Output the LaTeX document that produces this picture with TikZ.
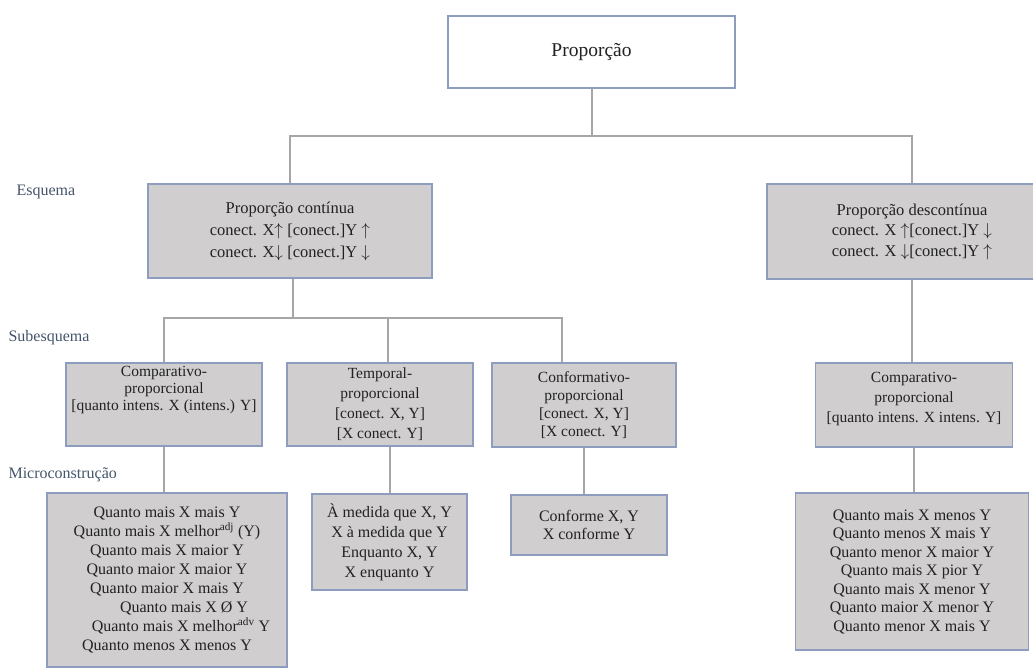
\documentclass[tikz,border=0pt]{standalone}
\usepackage{fontspec}
\setmainfont{Liberation Serif}
\usepackage{amsmath}
\usetikzlibrary{positioning}
\definecolor{boxgray}{HTML}{D0CECE}
\definecolor{boxline}{HTML}{8E9CC0}
\definecolor{linkgray}{HTML}{A6A6A6}
\definecolor{levelblue}{HTML}{44546A}
\definecolor{inkgray}{HTML}{222222}

\begin{document}
\begin{tikzpicture}[
    x=1pt, y=-1pt,
    every node/.style={text=inkgray, font=\fontsize{16}{19}\selectfont},
    sized/.style 2 args={minimum width=#1pt, minimum height=#2pt},
    box/.style={draw=boxline, line width=1.2pt, fill=boxgray, align=center, inner sep=0pt},
    topbox/.style={box, fill=white, font=\fontsize{19.5}{23}\selectfont},
    subbox/.style={box, font=\fontsize{15.5}{18}\selectfont},
    level/.style={anchor=west, text=levelblue, font=\fontsize{16}{18}\selectfont},
    link/.style={draw=linkgray, line width=2pt}
]
   \useasboundingbox (0,0) rectangle (1033,669);

   % Levels
   \node[level] (lvesq) at (13,192) {Esquema};
   \node[level] (lvsub) at (5,338) {Subesquema};
   \node[level] (lvmic) at (5,475) {Microconstrução};

   % Boxes
   \node[topbox, sized={287}{72}] (prop) at (591.5,52) {Proporção};
   \node[box, sized={284}{94}, font=\fontsize{16.5}{22}\selectfont] (cont) at (290,231)
      {Proporção contínua\\conect. X$\uparrow$ [conect.]Y $\uparrow$\\conect. X$\downarrow$ [conect.]Y $\downarrow$};
   \node[box, sized={290}{95}, font=\fontsize{16.5}{20.5}\selectfont] (desc) at (912,231.5)
      {Proporção descontínua\\conect. X $\uparrow$[conect.]Y $\downarrow$\\conect. X $\downarrow$[conect.]Y $\uparrow$};

   \node[subbox, sized={196}{83}, font=\fontsize{15.5}{17}\selectfont, text depth=33pt] (subcomp) at (164,404.5)
      {Comparativo-\\proporcional\\{}[quanto intens. X (intens.) Y]};
   \node[subbox, sized={186}{83}, font=\fontsize{15.5}{20}\selectfont] (subtemp) at (380,404.5)
      {Temporal-\\proporcional\\{}[conect. X, Y]\\{}[X conect. Y]};
   \node[subbox, sized={184}{84}] (subconf) at (584,405)
      {Conformativo-\\proporcional\\{}[conect. X, Y]\\{}[X conect. Y]};
   \node[subbox, sized={197}{84}, font=\fontsize{15.5}{20}\selectfont, text depth=16pt] (subdesc) at (914,405)
      {Comparativo-\\proporcional\\{}[quanto intens. X intens. Y]};

   \node[box, sized={240}{174}] (miccomp) at (167,580)
      {Quanto mais X mais Y\\Quanto mais X melhor\textsuperscript{adj} (Y)\\Quanto mais X maior Y\\
       Quanto maior X maior Y\\Quanto maior X mais Y\\\hspace*{34pt}Quanto mais X Ø Y\\
       \hspace*{28pt}Quanto mais X melhor\textsuperscript{adv} Y\\Quanto menos X menos Y};
   \node[box, sized={155}{96}, font=\fontsize{16}{20}\selectfont] (mictemp) at (389.5,542)
      {À medida que X, Y\\X à medida que Y\\Enquanto X, Y\\X enquanto Y};
   \node[box, sized={156}{60}, font=\fontsize{16}{18}\selectfont] (micconf) at (589,525)
      {Conforme X, Y\\X conforme Y};
   \node[box, sized={233}{157}, font=\fontsize{16}{18.5}\selectfont] (micdesc) at (912,571.5)
      {Quanto mais X menos Y\\Quanto menos X mais Y\\Quanto menor X maior Y\\Quanto mais X pior Y\\
       Quanto mais X menor Y\\Quanto maior X menor Y\\Quanto menor X mais Y};

   % Links
   \draw[link] (prop.south) -- ++(0,47) -| (cont.north);
   \draw[link] (prop.south) -- ++(0,47) -| (desc.north);
   \draw[link] ([xshift=3pt]cont.south) -- ++(0,39) -| (subcomp.north);
   \draw[link] ([xshift=3pt]cont.south) -- ++(0,39) -| ([xshift=8pt]subtemp.north);
   \draw[link] ([xshift=3pt]cont.south) -- ++(0,39) -| ([xshift=-22pt]subconf.north);
   \draw[link] (desc.south) -- (desc.south |- subdesc.north);
   \draw[link] (subcomp.south) -- (subcomp.south |- miccomp.north);
   \draw[link] (mictemp.north |- subtemp.south) -- (mictemp.north);
   \draw[link] (subconf.south) -- (subconf.south |- micconf.north);
   \draw[link] (subdesc.south) -- (subdesc.south |- micdesc.north);
\end{tikzpicture}
\end{document}
